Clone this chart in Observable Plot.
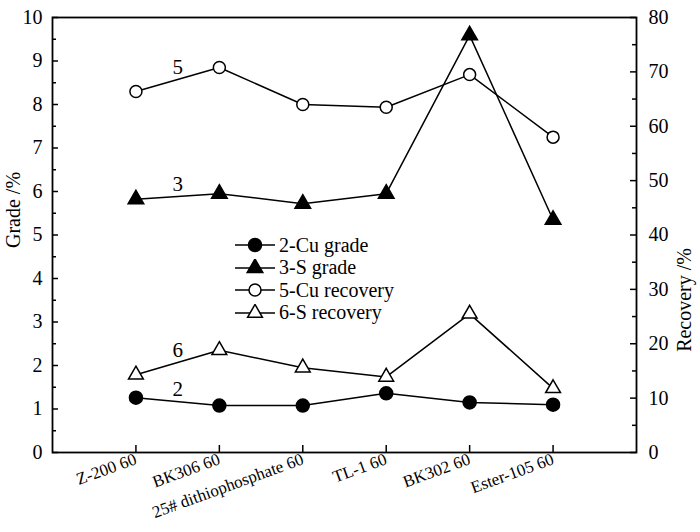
<!DOCTYPE html>
<html><head><meta charset="utf-8">
<script src="https://cdn.jsdelivr.net/npm/d3@7"></script>
<script src="https://cdn.jsdelivr.net/npm/@observablehq/plot@0.6"></script>
<style>
body{margin:0;background:#fff;}
#wrap{position:relative;width:700px;height:532px;}
#legend{position:absolute;left:235px;top:234px;font-family:'Liberation Serif',serif;font-size:20px;color:#000;}
#legend .row{display:flex;align-items:center;height:22.5px;}
#legend svg{display:block;margin-right:4px;}
</style></head><body><div id="wrap"></div>
<script>
const categories = ["Z-200 60","BK306 60","25# dithiophosphate 60","TL-1 60","BK302 60","Ester-105 60"];
const cuGrade = [1.26,1.08,1.08,1.36,1.15,1.10];
const sGrade = [5.82,5.95,5.72,5.95,9.59,5.35];
const cuRecovery = [66.4,70.8,64.0,63.5,69.5,58.0];
const sRecovery = [14.3,18.8,15.6,13.9,25.5,11.8];
const gradeTicks = [0,1,2,3,4,5,6,7,8,9,10];
const gradeMinor = [0.5,1.5,2.5,3.5,4.5,5.5,6.5,7.5,8.5,9.5];
const recoveryTicks = [0,10,20,30,40,50,60,70,80];
const recoveryMinor = [5,15,25,35,45,55,65,75];
const seriesNames = ["2-Cu grade","3-S grade","5-Cu recovery","6-S recovery"];
const seriesNumbers = ["2","3","5","6"];
const leftTitle = "Grade /%";
const rightTitle = "Recovery /%";

const FONT = "'Liberation Serif', serif";
const W = 700, H = 532, mL = 52, mR = 64, mT = 17, mB = 80;
const pw = W - mL - mR, ph = H - mT - mB;
const k = 8; // recovery -> grade axis factor (80 / 10)

const idx = categories.map((c, i) => i + 1);
const rows = (vals, s = 1) => vals.map((v, i) => ({x: i + 1, y: v / s}));

const series = [
  {vals: cuGrade, s: 1, symbol: "circle", fill: "black", r: 6.5},
  {vals: sGrade, s: 1, symbol: "triangle", fill: "black", r: 5.8},
  {vals: cuRecovery, s: k, symbol: "circle", fill: "white", r: 6},
  {vals: sRecovery, s: k, symbol: "triangle", fill: "white", r: 5.5}
];

const marks = [
  Plot.axisY({ticks: gradeTicks, tickSize: 0, tickPadding: 10, label: null, fontSize: 20}),
  Plot.axisY({anchor: "right", ticks: recoveryTicks.map(v => v / k), tickFormat: v => Math.round(v * k), tickSize: 0, tickPadding: 12, label: null, fontSize: 20}),
  Plot.axisX({ticks: idx, tickFormat: i => categories[i - 1], tickRotate: -20, tickSize: 0, tickPadding: 6, label: null, fontSize: 17}),
  Plot.tickY(gradeTicks, {y: d => d, insetRight: pw - 6, strokeWidth: 1.5}),
  Plot.tickY(gradeMinor, {y: d => d, insetRight: pw - 4, strokeWidth: 1.5}),
  Plot.tickY(recoveryTicks, {y: d => d / k, insetLeft: pw - 6, strokeWidth: 1.5}),
  Plot.tickY(recoveryMinor, {y: d => d / k, insetLeft: pw - 4, strokeWidth: 1.5}),
  Plot.tickX(idx, {x: d => d, insetTop: ph - 7, strokeWidth: 1.5}),
  Plot.frame({strokeWidth: 1.8}),
];
series.forEach(s => {
  const data = rows(s.vals, s.s);
  marks.push(Plot.line(data, {x: "x", y: "y", stroke: "black", strokeWidth: 1.5}));
});
series.forEach(s => {
  const data = rows(s.vals, s.s);
  marks.push(Plot.dot(data, {x: "x", y: "y", symbol: s.symbol, r: s.r, fill: s.fill, stroke: "black", strokeWidth: 1.5}));
});
const annot = series.map((s, i) => ({x: 1.5, y: (s.vals[0] + s.vals[1]) / 2 / s.s, t: seriesNumbers[i]}));
marks.push(Plot.text(annot, {x: "x", y: "y", text: "t", dy: -12, fontSize: 21, fill: "black"}));
marks.push(Plot.text([leftTitle], {frameAnchor: "left", dx: -39, dy: 13, rotate: -90, fontSize: 20, fill: "black"}));
marks.push(Plot.text([rightTitle], {frameAnchor: "right", dx: 48, dy: 13, rotate: -90, fontSize: 20, fill: "black"}));

const chart = Plot.plot({
  width: W, height: H, marginLeft: mL, marginRight: mR, marginTop: mT, marginBottom: mB,
  style: {fontFamily: FONT, fontSize: "19px", color: "black", background: "white", overflow: "visible"},
  x: {domain: [0, 7]},
  y: {domain: [0, 10]},
  marks
});
const wrap = document.getElementById("wrap");
wrap.appendChild(chart);

// legend
const leg = document.createElement("div");
leg.id = "legend";
series.forEach((s, i) => {
  const row = document.createElement("div");
  row.className = "row";
  const svg = d3.create("svg").attr("width", 40).attr("height", 18);
  svg.append("line").attr("x1", 0).attr("x2", 40).attr("y1", 9).attr("y2", 9).attr("stroke", "black").attr("stroke-width", 1.5);
  const sym = s.symbol === "circle" ? d3.symbolCircle : d3.symbolTriangle;
  svg.append("path").attr("d", d3.symbol(sym, Math.PI * s.r * s.r)())
    .attr("transform", "translate(20,9)").attr("fill", s.fill).attr("stroke", "black").attr("stroke-width", 1.5);
  row.appendChild(svg.node());
  const span = document.createElement("span");
  span.textContent = seriesNames[i];
  row.appendChild(span);
  leg.appendChild(row);
});
wrap.appendChild(leg);
</script></body></html>
